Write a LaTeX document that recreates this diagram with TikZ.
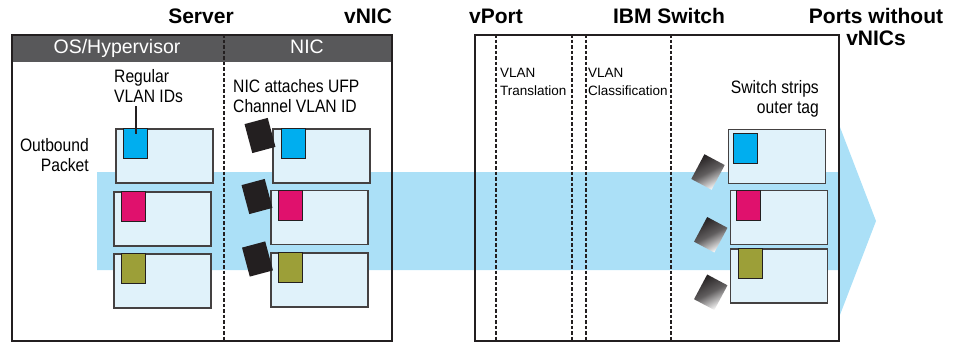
\documentclass[tikz,border=0pt]{standalone}
\usepackage{fontspec}
\setmainfont{Liberation Sans}
\newfontfamily\narrowfont[FakeStretch=0.87]{Liberation Sans}
\usetikzlibrary{positioning}
\definecolor{headgray}{RGB}{88,88,90}
\definecolor{flow}{RGB}{171,224,247}
\definecolor{pktfill}{RGB}{224,242,250}
\definecolor{tagblue}{RGB}{0,174,239}
\definecolor{tagred}{RGB}{224,17,109}
\definecolor{tagolive}{RGB}{156,159,56}
\definecolor{ink}{RGB}{35,31,32}

\begin{document}
\begin{tikzpicture}[x=1pt, y=-1pt,
      title/.style={font=\fontsize{21}{22}\selectfont\bfseries, align=center, inner sep=0pt},
      head/.style={font=\fontsize{19.5}{21}\selectfont, text=white, inner sep=0pt, anchor=base},
      note/.style={font=\narrowfont\fontsize{18}{20.5}\selectfont, inner sep=0pt},
      small/.style={font=\fontsize{13.5}{18}\selectfont, align=left, inner sep=0pt, anchor=north west},
      frame/.style={draw=ink, line width=2.2pt, minimum width=#1, minimum height=306pt,
                    inner sep=0pt, anchor=north west},
      divider/.style={draw=ink, line width=2.4pt, dash pattern=on 3.5pt off 2pt},
      packet/.style={draw=ink!85, line width=1.5pt, fill=pktfill, minimum width=97pt,
                     minimum height=54pt, inner sep=0pt},
      tag/.style={draw=ink, line width=1.2pt, fill=#1, minimum width=24pt, minimum height=30pt,
                  inner sep=0pt, anchor=north west},
      outertag/.style={fill=ink, minimum width=24pt, minimum height=30pt, inner sep=0pt, rotate=15},
      fading/.style={top color=ink, bottom color=white, middle color=ink!72, shading angle=28,
                     minimum width=23pt, minimum height=28pt, inner sep=0pt, rotate=-28},
      callout/.style={draw=ink, line width=2.2pt}
    ]
      \useasboundingbox (0,0) rectangle (957,341);

      % header strip of the server and the flow arrow
      \fill[headgray] (11,34) rectangle (391,62);
      \fill[flow] (97,172) -- (838,172) -- (838,122) -- (876,221) -- (838,320)
        -- (838,270) -- (97,270) -- cycle;

      \draw[divider] (224,34) -- (224,340);
      \draw[divider] (496,34) -- (496,340);
      \draw[divider] (572,34) -- (572,340);
      \draw[divider] (586,34) -- (586,340);
      \draw[divider] (671,34) -- (671,340);
      \node[frame=380pt] (server) at (11,34) {};
      \node[frame=364pt] (switch) at (474,34) {};

      \node[title] (srvlbl) at (201,16) {Server};
      \node[title] (vniclbl) at (368,16) {vNIC};
      \node[title] (vportlbl) at (496,16) {vPort};
      \node[title] (swlbl) at (669,16) {IBM Switch};
      \node[title] (portslbl) at (876,27) {Ports without\\vNICs};
      \node[head] (oshead) at (117,53) {OS/Hypervisor};
      \node[head] (nichead) at (307,53) {NIC};

      \node[note, align=left, anchor=north west] (regtxt) at (114,69) {Regular\\VLAN IDs};
      \node[note, align=left, anchor=north west] (nictxt) at (233,79) {NIC attaches UFP\\Channel VLAN ID};
      \node[note, align=right, anchor=north east] (outtxt) at (89,138) {Outbound\\Packet};
      \node[note, align=right, anchor=north east] (striptxt) at (819,80) {Switch strips\\outer tag};
      \node[small] (transtxt) at (500,68) {VLAN\\Translation};
      \node[small] (classtxt) at (588,68) {VLAN\\Classification};

      % packets in the OS
      \node[packet] (os1) at (164.5,156) {};
      \node[packet] (os2) at (162.5,219) {};
      \node[packet] (os3) at (162.5,281) {};
      \node[tag=tagblue] (tagA) at ([xshift=8pt]os1.north west) {};
      \node[tag=tagred] (tagB) at ([xshift=8pt]os2.north west) {};
      \node[tag=tagolive] (tagC) at ([xshift=8pt]os3.north west) {};
      \draw[callout, shorten <=3pt] (tagA.north |- regtxt.south) -- ([yshift=-6pt]tagA.north);

      % packets in the NIC
      \node[packet] (nic1) at (321.5,156) {};
      \node[packet] (nic2) at (319.5,217.5) {};
      \node[packet] (nic3) at (319.5,280) {};
      \node[tag=tagblue] (nictagA) at ([xshift=9pt]nic1.north west) {};
      \node[tag=tagred] (nictagB) at ([xshift=8pt]nic2.north west) {};
      \node[tag=tagolive] (nictagC) at ([xshift=8pt]nic3.north west) {};
      \node[outertag] (ufp1) at (260,135.5) {};
      \node[outertag] (ufp2) at (257,196.5) {};
      \node[outertag] (ufp3) at (257.5,259) {};

      % packets leaving the switch
      \node[packet] (sw1) at (777,156.5) {};
      \node[packet] (sw2) at (779,217.5) {};
      \node[packet] (sw3) at (779,276) {};
      \node[tag=tagblue] (swtagA) at ([xshift=5pt,yshift=-4pt]sw1.north west) {};
      \node[tag=tagred] (swtagB) at ([xshift=6pt]sw2.north west) {};
      \node[tag=tagolive] (swtagC) at ([xshift=8pt]sw3.north west) {};
      \node[fading] (strip1) at (708,172) {};
      \node[fading] (strip2) at (710.75,234.75) {};
      \node[fading] (strip3) at (710.75,292.25) {};
    \end{tikzpicture}
\end{document}
